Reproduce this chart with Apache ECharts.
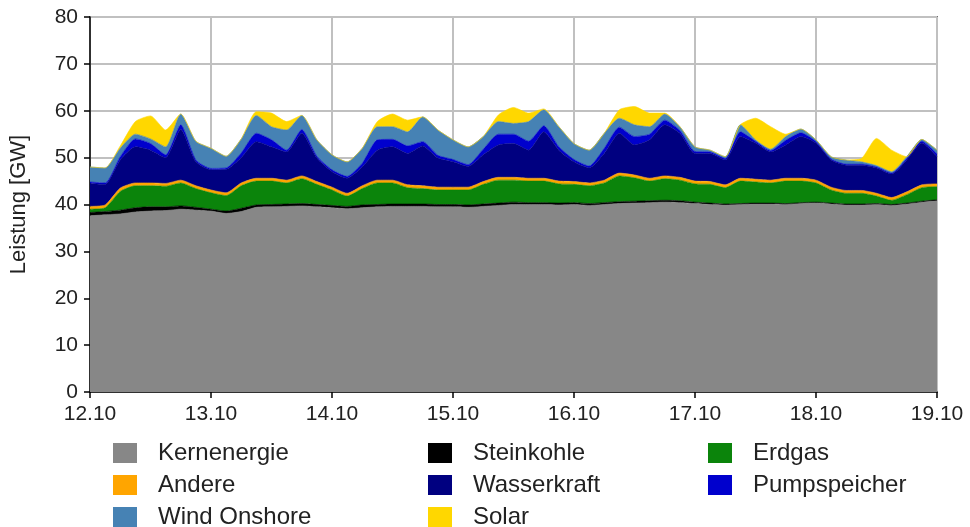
<!DOCTYPE html>
<html>
<head>
<meta charset="utf-8">
<script src="https://cdn.jsdelivr.net/npm/echarts@6/dist/echarts.min.js"></script>
<style>
  html, body { margin: 0; padding: 0; background: #fff; }
  #chart { width: 970px; height: 527px; }
</style>
</head>
<body>
<div id="chart"></div>
<script>
// Tageslabels der x-Achse
var dayLabels = ['12.10', '13.10', '14.10', '15.10', '16.10', '17.10', '18.10', '19.10'];

// Werte alle 3 Stunden (GW), 12.10 00:00 bis 19.10 00:00
var kernenergie = [37.6,37.8,38.0,38.4,38.6,38.7,39.0,38.8, 38.6,38.1,38.5,39.4,39.5,39.6,39.7,39.5,
  39.3,39.1,39.3,39.5,39.6,39.6,39.6,39.5, 39.5,39.4,39.6,39.8,40.0,40.0,40.0,39.9,
  40.0,39.8,40.0,40.2,40.3,40.4,40.5,40.4, 40.2,40.0,39.9,40.0,40.1,40.1,40.0,40.2,
  40.3,40.1,39.9,39.9,40.0,39.8,40.1,40.5, 40.8];
var steinkohle = [0.7,0.7,0.8,0.9,0.9,0.8,0.7,0.6, 0.4,0.5,0.7,0.5,0.5,0.5,0.5,0.5,
  0.5,0.5,0.6,0.5,0.5,0.5,0.5,0.5, 0.5,0.5,0.5,0.5,0.5,0.4,0.4,0.4,
  0.4,0.4,0.4,0.4,0.4,0.4,0.4,0.4, 0.3,0.3,0.2,0.2,0.2,0.2,0.2,0.2,
  0.2,0.2,0.2,0.2,0.2,0.2,0.2,0.2, 0.2];
var erdgas = [0.7,0.8,4.0,4.7,4.5,4.4,4.9,4.0, 3.5,3.3,4.8,5.1,5.0,4.5,5.3,4.3,
  3.3,2.2,3.5,4.6,4.5,3.5,3.3,3.1, 3.1,3.2,4.2,4.9,4.7,4.6,4.6,4.1,
  3.9,3.8,4.2,5.5,5.0,4.2,4.6,4.4, 3.9,4.0,3.5,4.8,4.5,4.3,4.8,4.6,
  4.1,2.8,2.3,2.3,1.6,0.9,1.8,2.9, 2.8];
var andere = [0.6,0.6,0.7,0.6,0.6,0.6,0.6,0.6, 0.6,0.6,0.6,0.6,0.6,0.6,0.6,0.6,
  0.6,0.6,0.6,0.6,0.6,0.6,0.6,0.6, 0.6,0.6,0.6,0.6,0.6,0.6,0.6,0.6,
  0.6,0.6,0.6,0.6,0.6,0.6,0.6,0.6, 0.6,0.6,0.6,0.6,0.6,0.6,0.6,0.6,
  0.6,0.6,0.6,0.6,0.6,0.6,0.6,0.6, 0.6];
var wasserkraft = [4.9,4.4,6.0,7.7,7.0,5.5,10.8,5.1, 4.3,5.0,5.4,7.8,6.7,6.0,9.1,5.0,
  3.3,3.2,4.0,6.4,7.1,6.7,8.5,6.2, 5.4,4.4,5.7,6.9,7.2,6.0,9.9,6.6,
  4.2,3.2,5.7,8.5,6.4,8.2,10.9,9.4, 5.9,6.0,5.3,8.9,7.7,6.0,7.1,8.9,
  7.9,5.8,5.4,5.4,5.4,5.0,6.8,8.9, 5.8];
var pumpspeicher = [0.3,0.3,0.7,1.7,1.4,0.6,1.0,0.4, 0.3,0.3,1.0,1.8,1.5,0.4,0.8,0.4,
  0.4,0.4,0.8,2.2,1.6,1.6,0.9,0.6, 0.5,0.4,1.2,2.3,2.0,1.9,1.3,0.7,
  0.5,0.4,1.1,1.3,1.8,1.2,1.0,0.6, 0.4,0.3,0.3,1.0,0.4,0.3,1.0,0.8,
  0.3,0.2,0.2,0.2,0.2,0.2,0.3,0.4, 0.6];
var windOnshore = [3.2,3.2,1.8,1.0,1.0,1.7,2.3,4.0, 4.3,2.5,3.0,3.8,2.8,4.3,3.0,3.5,
  3.2,3.1,3.2,2.8,2.7,3.0,5.3,5.4, 4.2,3.8,2.7,2.7,2.3,4.2,3.4,4.3,
  3.4,3.4,3.2,1.9,2.5,1.6,1.3,0.8, 1.0,0.4,0.4,1.5,0.3,0.3,0.8,0.8,
  0.4,0.5,0.9,0.5,0.3,0.3,0.4,0.4, 0.8];
var solar = [0,0,0.5,2.7,4.9,3.6,0,0, 0,0,0,0.8,2.9,1.8,0,0,
  0,0,0,1.1,2.7,2.5,0,0, 0,0,0,1.4,3.4,1.8,0.2,0,
  0,0,0,1.8,3.9,2.9,0.2,0, 0,0,0,0,4.6,4.8,0.5,0,
  0,0,0,0.7,5.8,4.6,0,0, 0];

// Zeitachse: 3-Stunden-Schritte
var zeiten = [];
for (var i = 0; i < kernenergie.length; i++) {
  var h = (i % 8) * 3;
  zeiten.push(dayLabels[Math.floor(i / 8)] + ' ' + (h < 10 ? '0' : '') + h + ':00');
}

var seriesDefs = [
  { name: 'Kernenergie', data: kernenergie, color: '#878787' },
  { name: 'Steinkohle', data: steinkohle, color: '#000000' },
  { name: 'Erdgas', data: erdgas, color: '#0b840b' },
  { name: 'Andere', data: andere, color: '#ffa500' },
  { name: 'Wasserkraft', data: wasserkraft, color: '#000080' },
  { name: 'Pumpspeicher', data: pumpspeicher, color: '#0000cd' },
  { name: 'Wind Onshore', data: windOnshore, color: '#4682b4' },
  { name: 'Solar', data: solar, color: '#ffd700' }
];

var font = 'Liberation Sans, Arial, sans-serif';

var series = seriesDefs.map(function (d) {
  return {
    name: d.name,
    type: 'line',
    stack: 'gesamt',
    symbol: 'none',
    smooth: 0.2,
    data: d.data,
    lineStyle: { width: 0.6, color: d.color },
    areaStyle: { color: d.color, opacity: 1 },
    itemStyle: { color: d.color }
  };
});

// Legende: 3 Spalten, Eintraege zeilenweise in Reihenfolge der Serien
var legendCols = [113, 428, 708];
var legendRows = [441, 473, 505];
var legends = seriesDefs.map(function (d, k) {
  return {
    left: legendCols[k % 3],
    top: legendRows[Math.floor(k / 3)],
    padding: 0,
    itemWidth: 24,
    itemHeight: 20,
    icon: 'rect',
    data: [d.name],
    selectedMode: false,
    textStyle: { fontFamily: font, fontSize: 24, color: '#222', padding: [0, 0, 0, 16] }
  };
});

var myChart = echarts.init(document.getElementById('chart'));

var option = {
  animation: false,
  backgroundColor: '#fff',
  grid: {
    left: 88, right: 33, top: 17, bottom: 135,
    show: true, borderColor: '#000', borderWidth: 1.5
  },
  legend: legends,
  xAxis: {
    type: 'category',
    boundaryGap: false,
    data: zeiten,
    axisLine: { show: true, lineStyle: { color: '#000', width: 1.5 } },
    axisTick: { show: true, length: 6, interval: 7, lineStyle: { color: '#000', width: 1.5 } },
    axisLabel: {
      interval: 7,
      fontFamily: font, fontSize: 21, color: '#222', margin: 12,
      formatter: function (v) { return v.split(' ')[0]; }
    },
    splitLine: { show: true, interval: 7, lineStyle: { color: '#c0c0c0', width: 2 } }
  },
  yAxis: {
    type: 'value',
    min: 0, max: 80, interval: 10,
    name: 'Leistung [GW]',
    nameLocation: 'middle',
    nameGap: 60,
    nameTextStyle: { fontFamily: font, fontSize: 22, color: '#222' },
    axisLine: { show: true, lineStyle: { color: '#000', width: 1.5 } },
    axisTick: { show: true, length: 6, lineStyle: { color: '#000', width: 1.5 } },
    axisLabel: { fontFamily: font, fontSize: 21, color: '#222', margin: 12 },
    splitLine: { show: true, lineStyle: { color: '#c0c0c0', width: 2 } }
  },
  series: series
};

myChart.setOption(option);
</script>
</body>
</html>
